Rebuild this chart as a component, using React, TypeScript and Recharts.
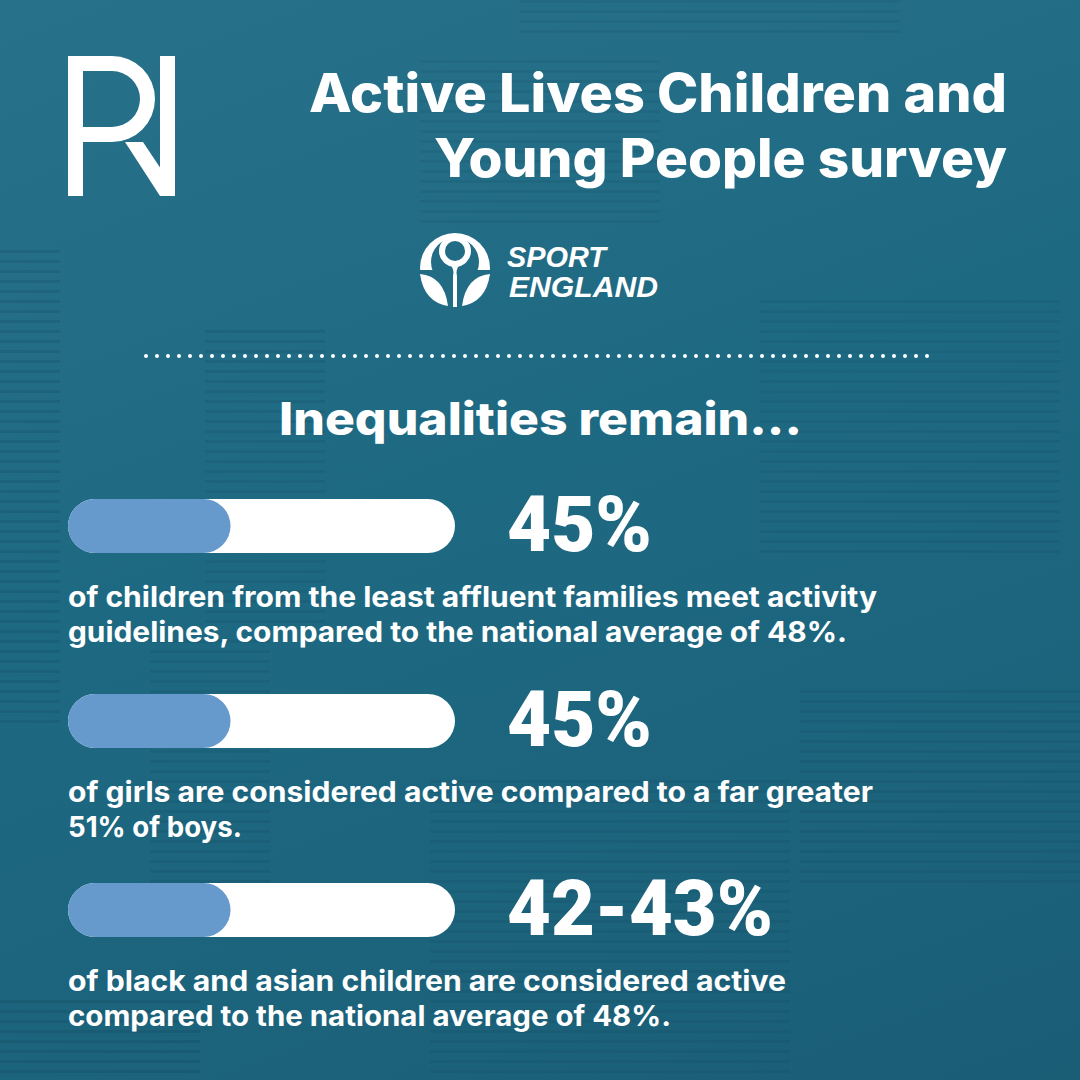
import React from "react";
import { BarChart, Bar, XAxis, YAxis } from "recharts";

// one row per statistic
const categories = ["Least affluent families", "Girls", "Black and Asian children"];
// how far each bar is filled (all three are drawn alike)
const fillValues = [42, 42, 42];
const headlines = ["45%", "45%", "42-43%"];
const captions = [
  ["of children from the least affluent families meet activity", "guidelines, compared to the national average of 48%."],
  ["of girls are considered active compared to a far greater", "51% of boys."],
  ["of black and asian children are considered active", "compared to the national average of 48%."],
];

const rowTops = [499, 694, 883];
const headlineWidths = [145, 145, 266];
const captionWidths = [
  [809, 779],
  [805, 174],
  [718, 603],
];

const TEAL = "#1e6982";
const FILL = "#6699cc";
const BODY_FONT = "Inter, 'Noto Sans', sans-serif";
const NUM_FONT = "Roboto, 'Liberation Sans', Arial, sans-serif";
const LOGO_FONT = "'Liberation Sans', Arial, sans-serif";

// faint column blocks to suggest the newspaper texture behind
const paperBlocks = [
  { x: 0, y: 250, w: 60, h: 480, o: 0.12 },
  { x: 205, y: 330, w: 120, h: 300, o: 0.1 },
  { x: 420, y: 60, w: 240, h: 170, o: 0.08 },
  { x: 520, y: 0, w: 380, h: 40, o: 0.08 },
  { x: 760, y: 300, w: 300, h: 260, o: 0.08 },
  { x: 150, y: 640, w: 120, h: 300, o: 0.09 },
  { x: 430, y: 780, w: 360, h: 300, o: 0.07 },
  { x: 800, y: 690, w: 280, h: 200, o: 0.08 },
  { x: 0, y: 1000, w: 200, h: 80, o: 0.12 },
];

const ProgressRow = ({ index }: { index: number }) => {
  const data = [{ name: categories[index], value: fillValues[index] }];
  return (
    <div style={{ position: "absolute", left: 68, top: rowTops[index] - 3 }}>
      <BarChart
        width={387}
        height={60}
        data={data}
        layout="vertical"
        margin={{ top: 0, right: 0, bottom: 0, left: 0 }}
        barCategoryGap="0%"
      >
        <XAxis type="number" domain={[0, 100]} hide />
        <YAxis type="category" dataKey="name" hide />
        <Bar
          dataKey="value"
          fill={FILL}
          barSize={54}
          radius={27}
          background={{ fill: "#ffffff", radius: 27 }}
          isAnimationActive={false}
        />
      </BarChart>
    </div>
  );
};

const RnLogo = () => (
  <g fill="#fff">
    <rect x={68} y={56} width={15} height={140} />
    <rect x={160} y={56} width={15} height={140} />
    <path
      fillRule="evenodd"
      d="M68 56 H112 A43 43 0 0 1 112 142 H68 Z M83 71 H112 A28 28 0 0 1 112 127 H83 Z"
    />
    <polygon points="125,142 143,142 175,190 175,196 160,196" />
  </g>
);

const SportEnglandLogo = () => (
  <g>
    <defs>
      <mask id="domeMask">
        <rect x={400} y={220} width={120} height={100} fill="#fff" />
        <circle cx={455} cy={262} r={24} fill="#000" />
        <rect x={400} y={270} width={120} height={50} fill="#000" />
      </mask>
    </defs>
    <circle cx={455} cy={268} r={35} fill="#fff" mask="url(#domeMask)" />
    <circle cx={455} cy={251} r={13} fill="none" stroke="#fff" strokeWidth={6} />
    <path d="M449 262 Q455 270 453 276 V307 H457 V276 Q455 270 461 262 Z" fill="#fff" />
    <path d="M420 274 Q444 276 448 306 Q424 302 420 274 Z" fill="#fff" />
    <path d="M490 274 Q466 276 462 306 Q486 302 490 274 Z" fill="#fff" />
    <text
      x={507}
      y={267}
      fill="#fff"
      fontFamily={LOGO_FONT}
      fontStyle="italic"
      fontWeight={700}
      fontSize={29}
      textLength={99}
      lengthAdjust="spacingAndGlyphs"
    >
      SPORT
    </text>
    <text
      x={509}
      y={297}
      fill="#fff"
      fontFamily={LOGO_FONT}
      fontStyle="italic"
      fontWeight={700}
      fontSize={29}
      textLength={149}
      lengthAdjust="spacingAndGlyphs"
    >
      ENGLAND
    </text>
  </g>
);

export default function App() {
  return (
    <div
      style={{
        position: "absolute",
        left: 0,
        top: 0,
        width: 1080,
        height: 1080,
        overflow: "hidden",
        background: `linear-gradient(160deg, #28718b 0%, ${TEAL} 45%, #1a5e76 100%)`,
      }}
    >
      {paperBlocks.map((b, i) => (
        <div
          key={i}
          style={{
            position: "absolute",
            left: b.x,
            top: b.y,
            width: b.w,
            height: b.h,
            opacity: b.o,
            filter: "blur(0.7px)",
            background:
              "repeating-linear-gradient(180deg, #06283a 0px, #06283a 3px, transparent 3px, transparent 10px)",
          }}
        />
      ))}

      <svg width={1080} height={1080} style={{ position: "absolute", left: 0, top: 0 }}>
        <RnLogo />

        <g fill="#fff" fontFamily={BODY_FONT} fontWeight={800} fontSize={53}>
          <text x={309} y={112} textLength={698} lengthAdjust="spacingAndGlyphs">
            Active Lives Children and
          </text>
          <text x={434} y={177} textLength={573} lengthAdjust="spacingAndGlyphs">
            Young People survey
          </text>
        </g>

        <SportEnglandLogo />

        <line
          x1={146}
          y1={356}
          x2={934}
          y2={356}
          stroke="#fff"
          strokeWidth={4}
          strokeLinecap="round"
          strokeDasharray="0 11"
        />

        <text
          x={279}
          y={435}
          fill="#fff"
          fontFamily={BODY_FONT}
          fontWeight={800}
          fontSize={45}
          textLength={523}
          lengthAdjust="spacingAndGlyphs"
        >
          Inequalities remain...
        </text>

        {headlines.map((h, i) => (
          <text
            key={`h-${i}`}
            x={507}
            y={rowTops[i] + 52}
            fill="#fff"
            fontFamily={NUM_FONT}
            fontWeight={900}
            fontSize={78}
            textLength={headlineWidths[i]}
            lengthAdjust="spacingAndGlyphs"
          >
            {h}
          </text>
        ))}

        {captions.map((lines, i) =>
          lines.map((line, j) => (
            <text
              key={`c-${i}-${j}`}
              x={68}
              y={rowTops[i] + 108 + j * 35}
              fill="#fff"
              fontFamily={BODY_FONT}
              fontWeight={700}
              fontSize={28}
              textLength={captionWidths[i][j]}
              lengthAdjust="spacingAndGlyphs"
            >
              {line}
            </text>
          ))
        )}
      </svg>

      {categories.map((_, i) => (
        <ProgressRow key={i} index={i} />
      ))}
    </div>
  );
}
